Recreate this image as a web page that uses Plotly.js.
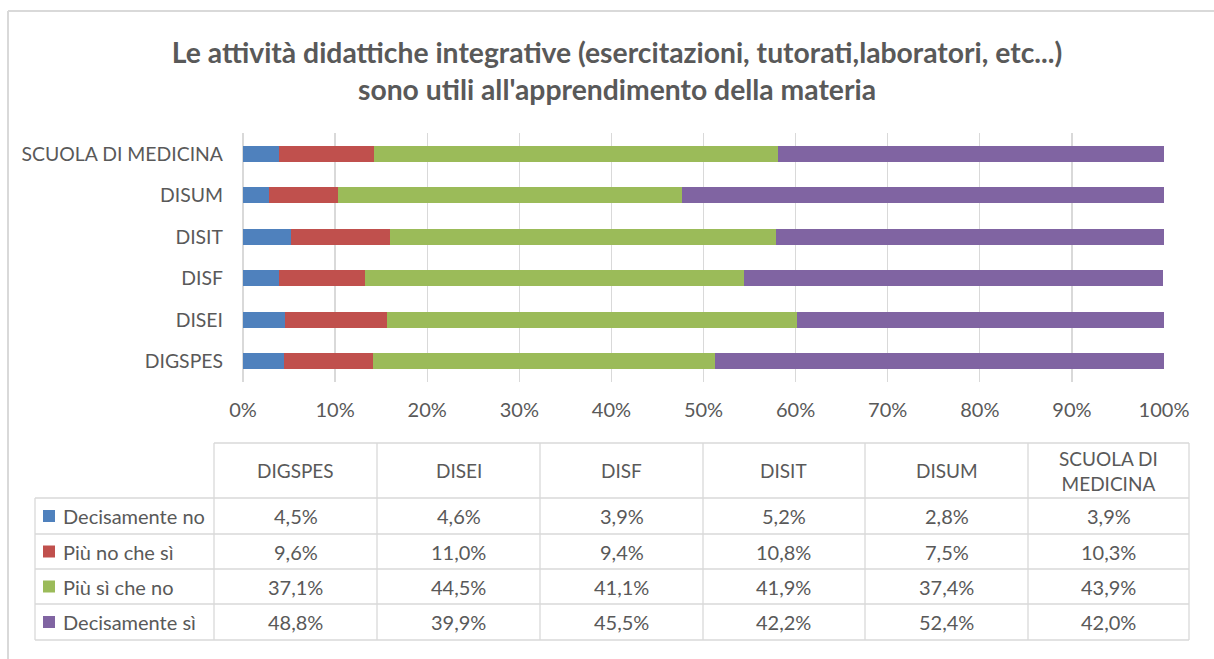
<!DOCTYPE html>
<html>
<head>
<meta charset="utf-8">
<script src="https://cdn.plot.ly/plotly-3.0.1.min.js"></script>
<style>html,body{margin:0;padding:0;background:#fff;}#chart{width:1214px;height:659px;}</style>
</head>
<body>
<div id="chart"></div>
<script>
// ---- data ----
const categories = ["DIGSPES", "DISEI", "DISF", "DISIT", "DISUM", "SCUOLA DI MEDICINA"];
const headerLabels = ["DIGSPES", "DISEI", "DISF", "DISIT", "DISUM", "SCUOLA DI<br>MEDICINA"];
const seriesNames = ["Decisamente no", "Più no che sì", "Più sì che no", "Decisamente sì"];
const decisamenteNo = [4.5, 4.6, 3.9, 5.2, 2.8, 3.9];
const piuNoCheSi   = [9.6, 11.0, 9.4, 10.8, 7.5, 10.3];
const piuSiCheNo   = [37.1, 44.5, 41.1, 41.9, 37.4, 43.9];
const decisamenteSi = [48.8, 39.9, 45.5, 42.2, 52.4, 42.0];
const xTickVals = [0, 10, 20, 30, 40, 50, 60, 70, 80, 90, 100];

const seriesValues = [decisamenteNo, piuNoCheSi, piuSiCheNo, decisamenteSi];
const colors = ["#4f81bd", "#c0504d", "#9bbb59", "#8064a2"];

const W = 1214, H = 659;
const px = x => x / W;
const py = y => 1 - y / H;
const FONT = "Lato, 'Liberation Sans', sans-serif";
const TXT = "#595959";
const GRID = "#d9d9d9";

const traces = seriesNames.map((name, i) => ({
  type: "bar",
  orientation: "h",
  name: name,
  y: categories,
  x: seriesValues[i],
  marker: {color: colors[i], line: {width: 0}},
  width: 0.38,
  hoverinfo: "x+name"
}));

const shapes = [];
const annotations = [];
const line = (x0, y0, x1, y1, color, w) => shapes.push({
  type: "line", xref: "paper", yref: "paper",
  x0: px(x0), y0: py(y0), x1: px(x1), y1: py(y1),
  line: {color: color || GRID, width: w || 1.3}
});

// chart frame
line(8, 11, 1214, 11, GRID, 2);
line(8, 11, 8, 659, GRID, 2);

// table grid
const colEdges = [214, 377, 540, 703, 865, 1028, 1189];
const rowEdges = [443, 498, 534, 569, 604, 640];
line(214, rowEdges[0], 1189, rowEdges[0]);
for (let r = 1; r < rowEdges.length; r++) line(35, rowEdges[r], 1189, rowEdges[r]);
line(35, rowEdges[1], 35, rowEdges[rowEdges.length - 1]);
colEdges.forEach(x => line(x, rowEdges[0], x, rowEdges[rowEdges.length - 1]));

// header
headerLabels.forEach((lab, c) => {
  annotations.push({
    xref: "paper", yref: "paper",
    x: px((colEdges[c] + colEdges[c + 1]) / 2), y: py((rowEdges[0] + rowEdges[1]) / 2),
    xanchor: "center", yanchor: "middle", showarrow: false,
    text: lab, font: {family: FONT, size: 19, color: TXT}
  });
});

// rows
const fmt = v => v.toFixed(1).replace(".", ",") + "%";
seriesNames.forEach((name, r) => {
  const yc = (rowEdges[r + 1] + rowEdges[r + 2]) / 2;
  shapes.push({
    type: "rect", xref: "paper", yref: "paper",
    x0: px(43), x1: px(55), y0: py(yc - 6), y1: py(yc + 6),
    fillcolor: colors[r], line: {width: 0}
  });
  annotations.push({
    xref: "paper", yref: "paper", x: px(61), y: py(yc),
    xanchor: "left", yanchor: "middle", showarrow: false,
    text: name, font: {family: FONT, size: 20, color: TXT}
  });
  seriesValues[r].forEach((v, c) => {
    annotations.push({
      xref: "paper", yref: "paper",
      x: px((colEdges[c] + colEdges[c + 1]) / 2), y: py(yc),
      xanchor: "center", yanchor: "middle", showarrow: false,
      text: fmt(v), font: {family: FONT, size: 20, color: TXT}
    });
  });
});

const layout = {
  width: W, height: H,
  margin: {l: 0, r: 0, t: 0, b: 0},
  paper_bgcolor: "#fff", plot_bgcolor: "#fff",
  barmode: "stack",
  showlegend: false,
  font: {family: FONT, color: TXT},
  title: {
    text: "Le attività didattiche integrative (esercitazioni, tutorati,laboratori, etc...)<br>sono utili all'apprendimento della materia",
    font: {family: FONT, size: 28.3, color: TXT, weight: "bold"},
    x: px(617), xref: "paper", xanchor: "center",
    y: py(63), yref: "paper", yanchor: "top"
  },
  xaxis: {
    domain: [px(243), px(1164)],
    range: [0, 100],
    tickvals: xTickVals,
    ticktext: xTickVals.map(v => v + "%"),
    showgrid: true, gridcolor: GRID, gridwidth: 1.3,
    zeroline: true, zerolinecolor: GRID, zerolinewidth: 1.3,
    showline: false, ticks: "",
    tickfont: {family: FONT, size: 20, color: TXT},
    ticklabelstandoff: 14,
    fixedrange: true
  },
  yaxis: {
    domain: [py(382), py(133)],
    type: "category",
    categoryorder: "array", categoryarray: categories,
    showgrid: false, zeroline: false, showline: false, ticks: "",
    tickfont: {family: FONT, size: 19.4, color: TXT},
    ticklabelstandoff: 19,
    fixedrange: true
  },
  shapes: shapes,
  annotations: annotations
};

Plotly.newPlot("chart", traces, layout, {displayModeBar: false, staticPlot: true});
</script>
</body>
</html>
